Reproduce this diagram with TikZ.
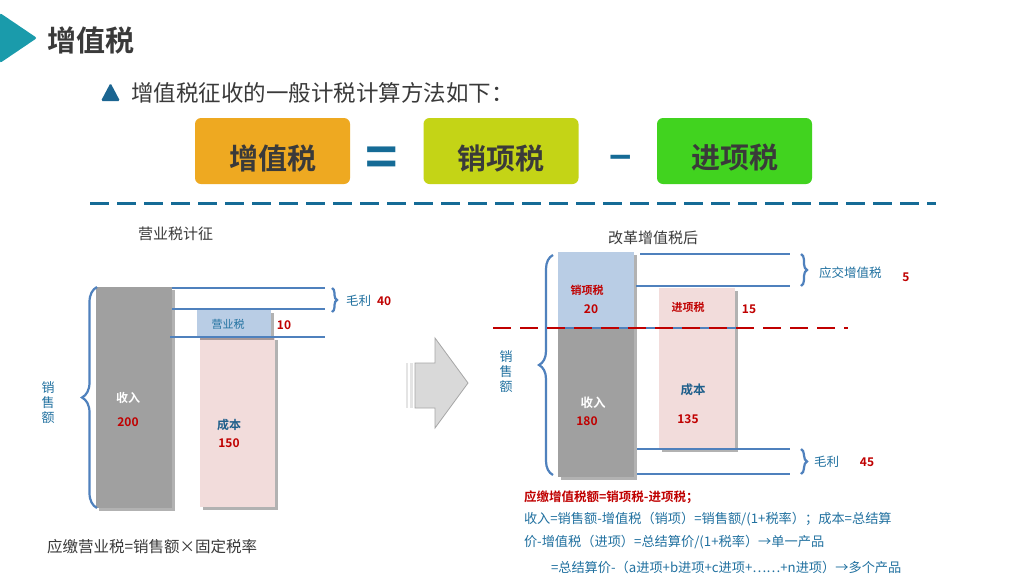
\documentclass[tikz,border=0pt]{standalone}
\usepackage{fontspec}
\setmainfont{Noto Sans CJK SC}[BoldFont={Noto Sans CJK SC Bold}]
\usetikzlibrary{decorations.pathreplacing,shadows}
\definecolor{cTeal}{HTML}{1A9BAB}
\definecolor{cDarkBlue}{HTML}{1B6591}
\definecolor{cSymbol}{HTML}{156B96}
\definecolor{cTitle}{HTML}{3A3A3A}
\definecolor{cOrange}{HTML}{EEA921}
\definecolor{cLime}{HTML}{C4D416}
\definecolor{cGreen}{HTML}{41D31F}
\definecolor{cLine}{HTML}{4F81BD}
\definecolor{cText}{HTML}{2171A0}
\definecolor{cRed}{HTML}{C00000}
\definecolor{cGrayBar}{HTML}{A0A0A0}
\definecolor{cPink}{HTML}{F2DCDB}
\definecolor{cLightBlue}{HTML}{B9CDE5}
\definecolor{cCost}{HTML}{1F5F8B}
\definecolor{cArrowFill}{HTML}{D9D9D9}
\definecolor{cArrowDraw}{HTML}{A6A6A6}
\begin{document}
\begin{tikzpicture}[x=1pt,y=-1pt,
  lbl/.style={inner sep=0pt, outer sep=0pt},
  formbox/.style={rounded corners=6pt, minimum width=155pt, minimum height=66pt, inner sep=0pt},
  boxtext/.style={lbl, font=\fontsize{29}{29}\selectfont\bfseries, text=cTitle},
  bar/.style={anchor=north west, inner sep=0pt, outer sep=0pt,
    drop shadow={shadow xshift=2.5pt, shadow yshift=-2.5pt, opacity=0.3, fill=black}},
  blueline/.style={draw=cLine, line width=2pt},
  bracestyle/.style={draw=cLine, line width=2.2pt, decorate, decoration={brace, amplitude=#1}},
  bluetext/.style={lbl, text=cText},
  rednum/.style={lbl, text=cRed, font=\fontsize{12}{12}\selectfont\bfseries},
]
\useasboundingbox[fill=white] (0,0) rectangle (1024,576);

% header
\fill[cTeal, rounded corners=2pt] (0,13) -- (37,38) -- (0,63) -- cycle;
\node[lbl, anchor=west, text=cTitle, font=\fontsize{29}{29}\selectfont\bfseries] (title) at (47,40) {增值税};
\fill[cDarkBlue, rounded corners=1.5pt] (101,101) -- (110.5,83) -- (120,101) -- cycle;
\node[lbl, anchor=west, text=cTitle, font=\fontsize{22.5}{22.5}\selectfont] (subtitle) at (131,93) {增值税征收的一般计税计算方法如下：};

% formula
\node[formbox, fill=cOrange] (bVat) at (272.5,151) {};
\node[boxtext] (tVat) at (272.5,158) {增值税};
\node[formbox, fill=cLime] (bOut) at (501,151) {};
\node[boxtext] (tOut) at (501,158) {销项税};
\node[formbox, fill=cGreen] (bIn) at (734.5,151) {};
\node[boxtext] (tIn) at (734.5,158) {进项税};
\node[lbl, text=cSymbol, font=\fontsize{55}{55}\selectfont\bfseries] (eq) at (382,162) {=};
\node[lbl, text=cSymbol, font=\fontsize{38}{38}\selectfont\bfseries] (minus) at (621,163.5) {−};

\coordinate (dashA) at (90,203);
\coordinate (dashB) at (936,203);
\draw[cSymbol, line width=3pt, dash pattern=on 19pt off 8pt] (dashA) -- (dashB);

% ---------- left: business tax ----------
\node[lbl, text=cTitle, font=\fontsize{15}{15}\selectfont] (lTitle) at (175.5,234) {营业税计征};

\node[bar, fill=cGrayBar, minimum width=76pt, minimum height=221pt] (lRev) at (96,287) {};
\node[bar, fill=cPink, minimum width=75pt, minimum height=170pt] (lCost) at (200,337) {};
\node[bar, fill=cLightBlue, minimum width=74pt, minimum height=27pt] (lTax) at (197,310) {};

\coordinate (l1a) at (172,288); \coordinate (l1b) at (325,288);
\coordinate (l2a) at (172,309); \coordinate (l2b) at (325,309);
\coordinate (l3a) at (170,337); \coordinate (l3b) at (325,337);
\draw[blueline] (l1a) -- (l1b);
\draw[blueline] (l2a) -- (l2b);
\draw[blueline] (l3a) -- (l3b);

\coordinate (lbA) at (97,508); \coordinate (lbB) at (97,287);
\draw[bracestyle=15pt] (lbA) -- (lbB);
\coordinate (lsA) at (332,288); \coordinate (lsB) at (332,312);
\draw[bracestyle=5pt] (lsA) -- (lsB);

\node[bluetext, align=center, font=\fontsize{13}{15}\selectfont] (lSales) at (48,403) {销\\售\\额};
\node[lbl, text=white, font=\fontsize{12}{12}\selectfont\bfseries] (lRevT) at (128,398) {收入};
\node[rednum] (lRevN) at (128,422) {200};
\node[bluetext, font=\fontsize{11}{11}\selectfont] (lTaxT) at (228,324) {营业税};
\node[rednum] (lTaxN) at (284,325) {10};
\node[lbl, text=cCost, font=\fontsize{12}{12}\selectfont\bfseries] (lCostT) at (229,425) {成本};
\node[rednum] (lCostN) at (229,443) {150};
\node[bluetext, anchor=west, font=\fontsize{12.5}{12.5}\selectfont] (lProfit) at (346,301) {毛利};
\node[rednum, anchor=west] (lProfitN) at (377,301) {40};
\node[lbl, anchor=west, text=cTitle, font=\fontsize{15.5}{15.5}\selectfont] (lFormula) at (47,547) {应缴营业税=销售额×固定税率};

% ---------- arrow ----------
\fill[cArrowFill!70] (406,363) rectangle (408,408);
\fill[cArrowFill!70] (410,363) rectangle (412.5,408);
\filldraw[fill=cArrowFill, draw=cArrowDraw, line width=0.8pt]
  (415,363) -- (435,363) -- (435,338) -- (468,383) -- (435,428) -- (435,408) -- (415,408) -- cycle;

% ---------- right: after reform ----------
\node[lbl, text=cTitle, font=\fontsize{15}{15}\selectfont] (rTitle) at (653,238) {改革增值税后};

\node[bar, fill=cLightBlue, minimum width=76pt, minimum height=75pt] (rOut) at (558,252) {};
\node[bar, fill=cGrayBar, minimum width=76pt, minimum height=150pt] (rRev) at (558,327) {};
\node[bar, fill=cPink, minimum width=76pt, minimum height=161pt] (rCost) at (659,288) {};

\coordinate (r1a) at (640,254); \coordinate (r1b) at (790,254);
\coordinate (r2a) at (636,286); \coordinate (r2b) at (790,286);
\coordinate (r3a) at (637,449); \coordinate (r3b) at (790,449);
\coordinate (r4a) at (637,474); \coordinate (r4b) at (790,474);
\draw[blueline] (r1a) -- (r1b);
\draw[blueline] (r2a) -- (r2b);
\draw[blueline] (r3a) -- (r3b);
\draw[blueline] (r4a) -- (r4b);
\coordinate (rmA) at (558,328); \coordinate (rmB) at (738,328);
\draw[blueline] (rmA) -- (rmB);

\coordinate (rbA) at (553,475); \coordinate (rbB) at (553,255);
\draw[bracestyle=14pt] (rbA) -- (rbB);
\coordinate (rsA) at (801,254); \coordinate (rsB) at (801,286);
\draw[bracestyle=6pt] (rsA) -- (rsB);
\coordinate (rtA) at (801,449); \coordinate (rtB) at (801,474);
\draw[bracestyle=6pt] (rtA) -- (rtB);

\coordinate (redA) at (493,328); \coordinate (redB) at (848,328);
\draw[cRed, line width=2.5pt, dash pattern=on 18pt off 9pt] (redA) -- (redB);

\node[bluetext, align=center, font=\fontsize{13}{15}\selectfont] (rSales) at (506,372) {销\\售\\额};
\node[lbl, text=cRed, font=\fontsize{11}{11}\selectfont\bfseries] (rOutT) at (587,290) {销项税};
\node[rednum] (rOutN) at (591,309) {20};
\node[lbl, text=white, font=\fontsize{12.5}{12.5}\selectfont\bfseries] (rRevT) at (593,403) {收入};
\node[rednum] (rRevN) at (587,421) {180};
\node[lbl, text=cRed, font=\fontsize{11}{11}\selectfont\bfseries] (rInT) at (688,307) {进项税};
\node[rednum] (rInN) at (749,309) {15};
\node[lbl, text=cCost, font=\fontsize{12.5}{12.5}\selectfont\bfseries] (rCostT) at (693,390) {成本};
\node[rednum] (rCostN) at (688,419) {135};
\node[bluetext, anchor=west, font=\fontsize{12.5}{12.5}\selectfont] (rPay) at (819,273) {应交增值税};
\node[rednum] (rPayN) at (906,277) {5};
\node[bluetext, anchor=west, font=\fontsize{12.5}{12.5}\selectfont] (rProfit) at (814,462) {毛利};
\node[rednum] (rProfitN) at (867,462) {45};

\node[lbl, anchor=west, text=cRed, font=\fontsize{12.5}{12.5}\selectfont\bfseries] (f1) at (524,497) {应缴增值税额=销项税-进项税；};
\node[bluetext, anchor=west, font=\fontsize{13.2}{13.2}\selectfont] (f2) at (524,519) {收入=销售额-增值税（销项）=销售额/(1+税率）；成本=总结算};
\node[bluetext, anchor=west, font=\fontsize{13.2}{13.2}\selectfont] (f3) at (524,542) {价-增值税（进项）=总结算价/(1+税率）→单一产品};
\node[bluetext, anchor=west, font=\fontsize{13.2}{13.2}\selectfont] (f4) at (551,567) {=总结算价-（a进项+b进项+c进项+……+n进项）→多个产品};
\end{tikzpicture}
\end{document}
